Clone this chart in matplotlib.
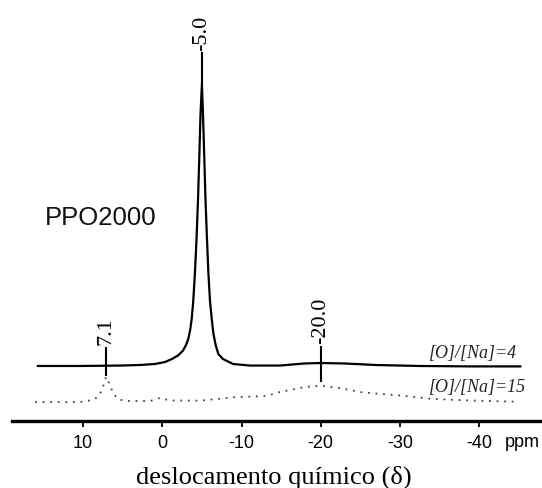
import matplotlib
matplotlib.use("Agg")
import matplotlib.pyplot as plt

# 23Na spectra of PPO2000 complexes (chemical shift in ppm, intensity in arbitrary units)
ppm_4 = [15.7, 10.4, 5.34, 2.82, 0.92, -0.34, -1.22, -1.98, -2.61, -2.99, -3.28,
         -3.54, -3.71, -3.91, -4.13, -4.32, -4.51, -4.70, -4.82, -5.0, -5.14, -5.27,
         -5.45, -5.64, -5.81, -6.02, -6.24, -6.44, -6.72, -7.07, -7.66, -8.93, -11.07,
         -14.86, -17.9, -20.0, -23.0, -27.0, -32.5, -38.9, -45.2]
int_4 = [13.1, 13.1, 13.2, 13.33, 13.57, 14.04, 14.75, 15.58, 16.72, 18.07, 19.49,
         21.86, 24.25, 28.5, 35.5, 43.2, 52.6, 64.5, 72.5, 79.9, 72.5, 64.5,
         52.6, 43.2, 35.5, 28.5, 24.25, 20.9, 18.2, 15.94, 14.75, 13.57, 13.2,
         13.2, 13.69, 13.8, 13.69, 13.33, 13.1, 13.0, 13.0]

ppm_15 = [16.07, 10.4, 8.75, 7.99, 7.49, 7.1, 6.60, 6.22, 5.59, 4.71, 1.55, 0.29,
          -0.97, -4.76, -8.93, -13.2, -14.7, -18.0, -20.0, -22.3, -25.2, -30.26,
          -34.18, -39.7, -44.7]
int_15 = [4.57, 4.57, 5.04, 5.99, 8.12, 10.51, 8.6, 6.7, 5.28, 4.81, 4.81, 5.52,
          4.93, 4.88, 5.68, 5.99, 6.87, 8.12, 8.43, 7.89, 6.87, 6.06,
          5.28, 4.88, 4.64]

peaks = [7.1, -5.0, -20.0]
peak_lo = [10.7, 79.9, 9.2]
peak_hi = [17.6, 87.4, 17.9]

ticks = [10, 0, -10, -20, -30, -40]

fig = plt.figure(figsize=(5.42, 4.89), dpi=100)
ax = fig.add_axes([0.0221, 0.1364, 0.9779, 0.8636])

ax.plot(ppm_4, int_4, color="black", lw=1.6, solid_joinstyle="round")
ax.plot(ppm_15, int_15, color="#444444", lw=1.3, linestyle=(0, (1, 3.2)))

serif = ["Liberation Serif", "DejaVu Serif"]
ax.vlines(peaks, peak_lo, peak_hi, color="black", lw=1.5)
for p, hi in zip(peaks, peak_hi):
    ax.text(p, hi + 0.6, f"{p:.1f}", rotation=90, ha="center", va="bottom",
            family=serif, fontsize=16)

ax.text(-33.7, 15.2, "[O]/[Na]=4", family=serif, style="italic", fontsize=13,
        color="#222222", va="baseline", ha="left")
ax.text(-33.7, 7.06, "[O]/[Na]=15", family=serif, style="italic", fontsize=13,
        color="#222222", va="baseline", ha="left")

ax.text(14.8, 48.4, "PPO2000", family="Liberation Sans", fontsize=18.5,
        va="center", ha="left", color="#111111")

ax.set_xlim(18.98, -47.94)
ax.set_ylim(0, 100)
ax.set_xticks(ticks)
ax.set_xticklabels([str(t) for t in ticks], family="Liberation Sans", fontsize=13)
ax.tick_params(axis="x", direction="out", length=4.3, width=1.3, pad=4.5)
ax.set_yticks([])
for side in ["left", "right", "top"]:
    ax.spines[side].set_visible(False)
ax.spines["bottom"].set_linewidth(2.4)

# axis unit sits at the right end of the tick row
ax.annotate("ppm", xy=(-43.3, -0.0585), xycoords=("data", "axes fraction"),
            family="Liberation Sans", fontsize=13, ha="left", va="baseline")

fig.text(273.5 / 542, (489 - 484) / 489, "deslocamento químico (δ)",
         family=serif, fontsize=19, ha="center", va="baseline")

fig.savefig("out.png", dpi=100)
